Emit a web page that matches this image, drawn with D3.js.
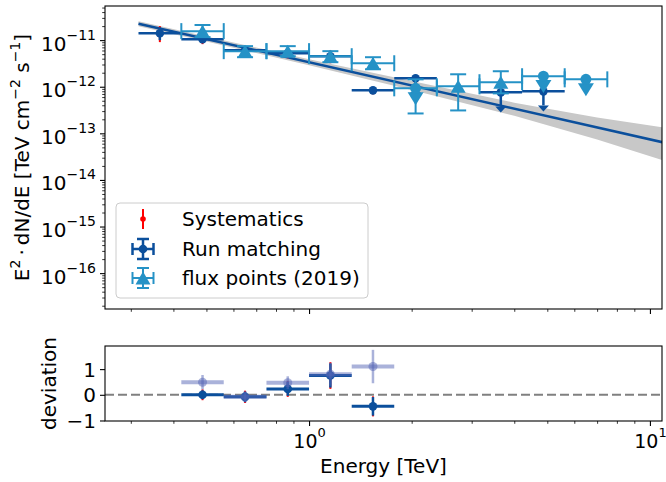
<!DOCTYPE html>
<html>
<head>
<meta charset="utf-8">
<script src="https://cdn.jsdelivr.net/npm/d3@7"></script>
<style>
  body { margin: 0; background: #fff; }
  text { font-family: "DejaVu Sans", sans-serif; }
</style>
</head>
<body>
<script>
// Run matching flux points (energy bins in TeV, E^2 dN/dE in TeV cm-2 s-1)
var rmLo   = [0.316, 0.422, 0.562, 0.75, 1.0, 1.334, 1.778, 3.162, 4.217];
var rmHi   = [0.422, 0.562, 0.75, 1.0, 1.334, 1.778, 2.371, 4.217, 5.623];
var rmE    = [0.365, 0.487, 0.649, 0.866, 1.155, 1.54, 2.054, 3.652, 4.87];
var rmFlux = [1.41e-11, 1.05e-11, 6.09e-12, 5.25e-12, 4.52e-12, 8.36e-13, 1.52e-12, 7.57e-13, 7.96e-13];
var rmLow  = [1.0e-11, 8.62e-12, 5.25e-12, 4.30e-12, 3.36e-12, 7.21e-13, null, null, null];
var rmHigh = [1.9e-11, 1.22e-11, 7.06e-12, 6.09e-12, 5.80e-12, 9.24e-13, null, null, null];
var rmUL   = [false, false, false, false, false, false, true, true, true];
// systematics on the run matching points
var sysLow  = [9.06e-12, 8.2e-12, 4.99e-12, 4.09e-12, 3.19e-12, 6.86e-13];
var sysHigh = [2.0e-11, 1.28e-11, 7.43e-12, 6.4e-12, 6.09e-12, 9.7e-13];

// flux points (2019)
var fpLo   = [0.422, 0.562, 0.75, 1.0, 1.334, 1.778, 2.371, 3.162, 4.217, 5.623];
var fpHi   = [0.562, 0.75, 1.0, 1.334, 1.778, 2.371, 3.162, 4.217, 5.623, 7.499];
var fpE    = [0.487, 0.649, 0.866, 1.155, 1.54, 2.054, 2.738, 3.652, 4.87, 6.49];
var fpFlux = [1.56e-11, 5.80e-12, 5.80e-12, 4.52e-12, 3.19e-12, 9.24e-13, 1.02e-12, 1.25e-12, 1.68e-12, 1.44e-12];
var fpLow  = [1.16e-11, 4.30e-12, 4.52e-12, 3.36e-12, 2.37e-12, 2.67e-13, 3.10e-13, 7.2e-13, null, null];
var fpHigh = [2.11e-11, 7.43e-12, 7.43e-12, 5.80e-12, 4.30e-12, 1.44e-12, 1.85e-12, 2.15e-12, null, null];
var fpUL   = [false, false, false, false, false, true, false, false, true, true];

// best-fit model and its error band
var modelE    = [0.316, 11];
var modelFlux = [2.25e-11, 6.34e-14];
var bandE    = [0.316, 0.5, 1, 2, 4, 7, 11];
var bandLow  = [1.99e-11, 9.33e-12, 2.89e-12, 8.51e-13, 2.39e-13, 7.36e-14, 2.59e-14];
var bandHigh = [2.55e-11, 1.20e-11, 3.90e-12, 1.33e-12, 4.56e-13, 2.20e-13, 1.33e-13];

// deviation panel
var resLo    = [0.422, 0.562, 0.75, 1.0, 1.334];
var resHi    = [0.562, 0.75, 1.0, 1.334, 1.778];
var resE     = [0.487, 0.649, 0.866, 1.155, 1.54];
var resRm    = [0.0, -0.08, 0.23, 0.75, -0.45];
var resRmErr = [0.17, 0.2, 0.27, 0.47, 0.36];
var resSys   = [0.21, 0.24, 0.31, 0.52, 0.39];
var resFp    = [0.49, -0.08, 0.47, 0.8, 1.1];
var resFpErr = [0.28, 0.22, 0.25, 0.45, 0.65];

// ticks
var yTicks = [1e-11, 1e-12, 1e-13, 1e-14, 1e-15, 1e-16];
var yTickExp = ["\u221211", "\u221212", "\u221213", "\u221214", "\u221215", "\u221216"];
var xTicks = [1, 10];
var xTickExp = ["0", "1"];
var rTicks = [-1, 0, 1];

var dark = "#0b4f9c", light = "#2592c6", red = "#ff0000";

var svg = d3.select("body")
    .append("svg")
    .attr("width", 666)
    .attr("height", 482);

var left = 105, right = 662, top1 = 6, bottom1 = 309, top2 = 346, bottom2 = 421;

var x = d3.scaleLog().domain([0.252, 10.85]).range([left, right]);
var y = d3.scaleLog().domain([1.7e-17, 5.4e-11]).range([bottom1, top1]);
var yr = d3.scaleLinear().domain([-1.02, 1.9]).range([bottom2, top2]);

var defs = svg.append("defs");
defs.append("clipPath").attr("id", "clip1").append("rect")
    .attr("x", left).attr("y", top1).attr("width", right - left).attr("height", bottom1 - top1);
defs.append("clipPath").attr("id", "clip2").append("rect")
    .attr("x", left).attr("y", top2).attr("width", right - left).attr("height", bottom2 - top2);

var g1 = svg.append("g").attr("clip-path", "url(#clip1)");
var g2 = svg.append("g").attr("clip-path", "url(#clip2)");

function triUp(cx, cy, w, h) {
    return "M" + cx + "," + (cy - h / 2) + "L" + (cx - w / 2) + "," + (cy + h / 2) + "L" + (cx + w / 2) + "," + (cy + h / 2) + "Z";
}
function triDown(cx, cy, w, h) {
    return "M" + cx + "," + (cy + h / 2) + "L" + (cx - w / 2) + "," + (cy - h / 2) + "L" + (cx + w / 2) + "," + (cy - h / 2) + "Z";
}
function caretDown(cx, cy, w, h) {
    return "M" + (cx - w / 2) + "," + cy + "L" + (cx + w / 2) + "," + cy + "L" + cx + "," + (cy + h) + "Z";
}

// ---- top panel ----
var band = bandE.map((e, i) => ({e: e, lo: bandLow[i], hi: bandHigh[i]}));
g1.append("path")
    .datum(band)
    .attr("d", d3.area().x(d => x(d.e)).y0(d => y(d.lo)).y1(d => y(d.hi)))
    .attr("fill", "#c8c8c8");

g1.append("path")
    .datum(modelE.map((e, i) => ({e: e, f: modelFlux[i]})))
    .attr("d", d3.line().x(d => x(d.e)).y(d => y(d.f)))
    .attr("fill", "none")
    .attr("stroke", dark)
    .attr("stroke-width", 2.5);

// systematics
var sys = sysLow.map((v, i) => ({e: rmE[i], lo: v, hi: sysHigh[i], f: rmFlux[i]}));
g1.selectAll(".sys").data(sys).enter().append("line")
    .attr("x1", d => x(d.e)).attr("x2", d => x(d.e))
    .attr("y1", d => y(d.lo)).attr("y2", d => y(d.hi))
    .attr("stroke", red).attr("stroke-width", 2);

// run matching
var rm = rmE.map((e, i) => ({e: e, lo: rmLo[i], hi: rmHi[i], f: rmFlux[i], fl: rmLow[i], fh: rmHigh[i], ul: rmUL[i]}));
g1.selectAll(".rmh").data(rm).enter().append("line")
    .attr("x1", d => x(d.lo)).attr("x2", d => x(d.hi))
    .attr("y1", d => y(d.f)).attr("y2", d => y(d.f))
    .attr("stroke", dark).attr("stroke-width", 2.5);
g1.selectAll(".rmv").data(rm.filter(d => !d.ul)).enter().append("line")
    .attr("x1", d => x(d.e)).attr("x2", d => x(d.e))
    .attr("y1", d => y(d.fl)).attr("y2", d => y(d.fh))
    .attr("stroke", dark).attr("stroke-width", 2.5);
g1.selectAll(".rmul").data(rm.filter(d => d.ul)).enter().append("line")
    .attr("x1", d => x(d.e)).attr("x2", d => x(d.e))
    .attr("y1", d => y(d.f)).attr("y2", d => y(d.f * 0.5))
    .attr("stroke", dark).attr("stroke-width", 2.5);
g1.selectAll(".rmcaret").data(rm.filter(d => d.ul)).enter().append("path")
    .attr("d", d => caretDown(x(d.e), y(d.f * 0.5), 11, 6))
    .attr("fill", dark);
g1.selectAll(".rmdot").data(rm).enter().append("circle")
    .attr("cx", d => x(d.e)).attr("cy", d => y(d.f)).attr("r", 4.3)
    .attr("fill", dark);

// flux points (2019)
var fp = fpE.map((e, i) => ({e: e, lo: fpLo[i], hi: fpHi[i], f: fpFlux[i], fl: fpLow[i], fh: fpHigh[i], ul: fpUL[i]}));
var cap = 8;
g1.selectAll(".fph").data(fp).enter().append("line")
    .attr("x1", d => x(d.lo)).attr("x2", d => x(d.hi))
    .attr("y1", d => y(d.f)).attr("y2", d => y(d.f))
    .attr("stroke", light).attr("stroke-width", 2);
g1.selectAll(".fphc").data(fp.flatMap(d => [{xv: d.lo, f: d.f}, {xv: d.hi, f: d.f}])).enter().append("line")
    .attr("x1", d => x(d.xv)).attr("x2", d => x(d.xv))
    .attr("y1", d => y(d.f) - cap).attr("y2", d => y(d.f) + cap)
    .attr("stroke", light).attr("stroke-width", 2);
var fpErr = fp.filter(d => d.fl !== null);
g1.selectAll(".fpv").data(fpErr).enter().append("line")
    .attr("x1", d => x(d.e)).attr("x2", d => x(d.e))
    .attr("y1", d => y(d.fl)).attr("y2", d => y(d.fh))
    .attr("stroke", light).attr("stroke-width", 2);
g1.selectAll(".fpvc").data(fpErr.flatMap(d => [{e: d.e, v: d.fl}, {e: d.e, v: d.fh}])).enter().append("line")
    .attr("x1", d => x(d.e) - cap).attr("x2", d => x(d.e) + cap)
    .attr("y1", d => y(d.v)).attr("y2", d => y(d.v))
    .attr("stroke", light).attr("stroke-width", 2);
g1.selectAll(".fptri").data(fp.filter(d => !d.ul)).enter().append("path")
    .attr("d", d => triUp(x(d.e), y(d.f), 15, 13))
    .attr("fill", light);
g1.selectAll(".fparrow").data(fp.filter(d => d.ul)).enter().append("path")
    .attr("d", d => triDown(x(d.e), y(d.f * 0.6), 16, 13))
    .attr("fill", light);
g1.selectAll(".fpdot").data(fp.filter(d => d.ul)).enter().append("circle")
    .attr("cx", d => x(d.e)).attr("cy", d => y(d.f)).attr("r", 5.5)
    .attr("fill", light);

// ---- deviation panel ----
g2.append("line")
    .attr("x1", left).attr("x2", right)
    .attr("y1", yr(0)).attr("y2", yr(0))
    .attr("stroke", "#808080").attr("stroke-width", 2)
    .attr("stroke-dasharray", "9,4");

var rres = resE.map((e, i) => ({e: e, lo: resLo[i], hi: resHi[i], v: resRm[i], err: resRmErr[i], sys: resSys[i]}));
g2.selectAll(".rsys").data(rres).enter().append("line")
    .attr("x1", d => x(d.e)).attr("x2", d => x(d.e))
    .attr("y1", d => yr(d.v - d.sys)).attr("y2", d => yr(d.v + d.sys))
    .attr("stroke", red).attr("stroke-width", 2);
g2.selectAll(".rrh").data(rres).enter().append("line")
    .attr("x1", d => x(d.lo)).attr("x2", d => x(d.hi))
    .attr("y1", d => yr(d.v)).attr("y2", d => yr(d.v))
    .attr("stroke", dark).attr("stroke-width", 3);
g2.selectAll(".rrv").data(rres).enter().append("line")
    .attr("x1", d => x(d.e)).attr("x2", d => x(d.e))
    .attr("y1", d => yr(d.v - d.err)).attr("y2", d => yr(d.v + d.err))
    .attr("stroke", dark).attr("stroke-width", 2.5);
g2.selectAll(".rrdot").data(rres).enter().append("circle")
    .attr("cx", d => x(d.e)).attr("cy", d => yr(d.v)).attr("r", 4.3)
    .attr("fill", dark);

var fres = resE.map((e, i) => ({e: e, lo: resLo[i], hi: resHi[i], v: resFp[i], err: resFpErr[i]}));
g2.selectAll(".frh").data(fres).enter().append("line")
    .attr("x1", d => x(d.lo)).attr("x2", d => x(d.hi))
    .attr("y1", d => yr(d.v)).attr("y2", d => yr(d.v))
    .attr("stroke", "#5566b5").attr("stroke-opacity", 0.5).attr("stroke-width", 4);
g2.selectAll(".frv").data(fres).enter().append("line")
    .attr("x1", d => x(d.e)).attr("x2", d => x(d.e))
    .attr("y1", d => yr(d.v - d.err)).attr("y2", d => yr(d.v + d.err))
    .attr("stroke", "#5566b5").attr("stroke-opacity", 0.5).attr("stroke-width", 2.5);
g2.selectAll(".frdot").data(fres).enter().append("circle")
    .attr("cx", d => x(d.e)).attr("cy", d => yr(d.v)).attr("r", 4.5)
    .attr("fill", "#5566b5").attr("fill-opacity", 0.5);

// ---- axes ----
function styleAxis(g) {
    g.select(".domain").remove();
    g.selectAll(".tick line").attr("stroke", "#000").attr("stroke-width", 1.1);
    g.selectAll(".tick text").attr("font-size", 20).attr("fill", "#000")
        .attr("font-family", "DejaVu Sans");
}
function minorOf(scale, majors) {
    return scale.ticks().filter(t => !majors.some(m => Math.abs(m - t) / m < 1e-6));
}

// top panel y
var ay = svg.append("g").attr("transform", `translate(${left},0)`)
    .call(d3.axisLeft(y).tickValues(yTicks).tickSize(5).tickPadding(4));
styleAxis(ay);
ay.selectAll(".tick text").attr("dy", "0.5em").each(function(d, i) {
    var t = d3.select(this).text("");
    t.append("tspan").text("10");
    t.append("tspan").attr("dy", -11).attr("font-size", 14).text(yTickExp[i]);
});
var ayMinor = svg.append("g").attr("transform", `translate(${left},0)`)
    .call(d3.axisLeft(y).tickValues(minorOf(y, yTicks)).tickSize(2.8).tickFormat(""));
styleAxis(ayMinor);
ayMinor.selectAll(".tick line").attr("stroke-width", 0.8);

// top panel x (no labels)
var ax1 = svg.append("g").attr("transform", `translate(0,${bottom1})`)
    .call(d3.axisBottom(x).tickValues(xTicks).tickSize(5).tickFormat(""));
styleAxis(ax1);
var ax1m = svg.append("g").attr("transform", `translate(0,${bottom1})`)
    .call(d3.axisBottom(x).tickValues(minorOf(x, xTicks)).tickSize(2.8).tickFormat(""));
styleAxis(ax1m);
ax1m.selectAll(".tick line").attr("stroke-width", 0.8);

// bottom panel x
var ax2 = svg.append("g").attr("transform", `translate(0,${bottom2})`)
    .call(d3.axisBottom(x).tickValues(xTicks).tickSize(5).tickPadding(4));
styleAxis(ax2);
ax2.selectAll(".tick text").attr("y", 27).attr("dy", 0).attr("font-size", 19).each(function(d, i) {
    var t = d3.select(this).text("");
    t.append("tspan").text("10");
    t.append("tspan").attr("dy", -11).attr("font-size", 13).text(xTickExp[i]);
});
var ax2m = svg.append("g").attr("transform", `translate(0,${bottom2})`)
    .call(d3.axisBottom(x).tickValues(minorOf(x, xTicks)).tickSize(2.8).tickFormat(""));
styleAxis(ax2m);
ax2m.selectAll(".tick line").attr("stroke-width", 0.8);

// bottom panel y
var ar = svg.append("g").attr("transform", `translate(${left},0)`)
    .call(d3.axisLeft(yr).tickValues(rTicks).tickSize(5).tickPadding(4)
        .tickFormat(d => d < 0 ? "\u2212" + Math.abs(d) : String(d)));
styleAxis(ar);
ar.selectAll(".tick text").attr("dy", "0.35em");

// frames
[[top1, bottom1], [top2, bottom2]].forEach(function(p) {
    svg.append("rect")
        .attr("x", left).attr("y", p[0])
        .attr("width", right - left).attr("height", p[1] - p[0])
        .attr("fill", "none").attr("stroke", "#000").attr("stroke-width", 1.1);
});

// axis labels
svg.append("text")
    .attr("x", (left + right) / 2).attr("y", 473)
    .attr("text-anchor", "middle").attr("font-size", 20)
    .text("Energy [TeV]");

var yl = svg.append("text")
    .attr("transform", `translate(29,${(top1 + bottom1) / 2}) rotate(-90)`)
    .attr("text-anchor", "middle").attr("font-size", 20);
yl.append("tspan").text("E");
yl.append("tspan").attr("dy", -9).attr("font-size", 14).text("2");
yl.append("tspan").attr("dy", 9).text("\u2009\u00b7\u2009dN/dE [TeV cm");
yl.append("tspan").attr("dy", -9).attr("font-size", 14).text("\u22122");
yl.append("tspan").attr("dy", 9).text(" s");
yl.append("tspan").attr("dy", -9).attr("font-size", 14).text("\u22121");
yl.append("tspan").attr("dy", 9).text("]");

svg.append("text")
    .attr("transform", `translate(56,${(top2 + bottom2) / 2}) rotate(-90)`)
    .attr("text-anchor", "middle").attr("font-size", 20)
    .text("deviation");

// ---- legend ----
var legendLabels = ["Systematics", "Run matching", "flux points (2019)"];
var leg = svg.append("g");
leg.append("rect")
    .attr("x", 116).attr("y", 203).attr("width", 252).attr("height", 95)
    .attr("rx", 4).attr("fill", "#fff").attr("fill-opacity", 0.8)
    .attr("stroke", "#cccccc").attr("stroke-width", 1);
var rowY = [219, 249, 278], ix = 143;
// systematics icon
leg.append("line").attr("x1", ix).attr("x2", ix).attr("y1", rowY[0] - 10).attr("y2", rowY[0] + 10)
    .attr("stroke", red).attr("stroke-width", 2);
leg.append("circle").attr("cx", ix).attr("cy", rowY[0]).attr("r", 2.8).attr("fill", red);
// errorbar icons
function errIcon(cy, color, lw, marker) {
    leg.append("line").attr("x1", ix - 10.5).attr("x2", ix + 10.5).attr("y1", cy).attr("y2", cy)
        .attr("stroke", color).attr("stroke-width", lw);
    leg.append("line").attr("x1", ix).attr("x2", ix).attr("y1", cy - 10).attr("y2", cy + 10)
        .attr("stroke", color).attr("stroke-width", lw);
    [-10.5, 10.5].forEach(dx => leg.append("line")
        .attr("x1", ix + dx).attr("x2", ix + dx).attr("y1", cy - 6).attr("y2", cy + 6)
        .attr("stroke", color).attr("stroke-width", lw));
    [-10, 10].forEach(dy => leg.append("line")
        .attr("x1", ix - 6).attr("x2", ix + 6).attr("y1", cy + dy).attr("y2", cy + dy)
        .attr("stroke", color).attr("stroke-width", lw));
    if (marker === "o") {
        leg.append("circle").attr("cx", ix).attr("cy", cy).attr("r", 4.3).attr("fill", color);
    } else {
        leg.append("path").attr("d", triUp(ix, cy, 15, 13)).attr("fill", color);
    }
}
errIcon(rowY[1], dark, 2.5, "o");
errIcon(rowY[2], light, 2, "^");
leg.selectAll(".lt").data(legendLabels).enter().append("text")
    .attr("x", 182).attr("y", (d, i) => rowY[i] + 7)
    .attr("font-size", 20)
    .text(d => d);
</script>
</body>
</html>
